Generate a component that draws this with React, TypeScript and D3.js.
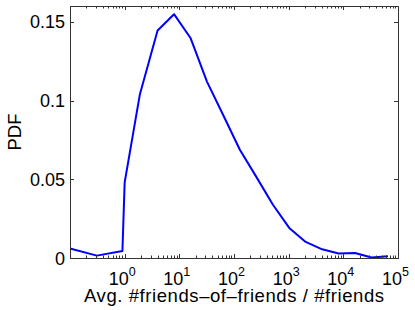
import * as d3 from "d3";
import React from "react";

// bin centres (log-spaced) and their PDF values
const binCenters = [0.1, 0.31, 0.91, 1, 1.9, 4, 8, 16, 32, 64, 128, 256, 512, 1024, 2048, 4096, 8192, 16384, 32768, 65536];
const pdfValues = [0.006, 0.0015, 0.0045, 0.048, 0.104, 0.1444, 0.1548, 0.1397, 0.112, 0.0905, 0.0687, 0.0515, 0.034, 0.0191, 0.0102, 0.0055, 0.0028, 0.0032, 0.0003, 0.0011];

const xMajorExps = [0, 1, 2, 3, 4, 5];
const yTicks = [0, 0.05, 0.1, 0.15];
const yTickLabels = ["0", "0.05", "0.1", "0.15"];

const W = 415;
const H = 310;
const left = 70, right = 398, top = 6, bottom = 258;
const font = "'Liberation Sans', Arial, Helvetica, sans-serif";

const App: React.FC = () => {
  const x = d3.scaleLog().domain([0.1, 1e5]).range([left, right]);
  const y = d3.scaleLinear().domain([0, 0.16]).range([bottom, top]);

  const line = d3.line<number>()
    .x((_, i) => x(binCenters[i]))
    .y((d) => y(d));

  // minor ticks 2..9 in every decade
  const minor: number[] = [];
  for (let e = -1; e < 5; e++) {
    for (let k = 2; k <= 9; k++) minor.push(k * Math.pow(10, e));
  }

  const axisCol = "#333";

  return (
    <svg width={W} height={H} style={{ position: "absolute", left: 0, top: 0, background: "#fff" }}>
      <rect x={0} y={0} width={W} height={H} fill="#fff" />

      <path d={line(pdfValues) || ""} fill="none" stroke="#0000ff" strokeWidth={2} strokeLinejoin="round" />

      {/* box */}
      <rect x={left + 0.5} y={top + 0.5} width={right - left} height={bottom - top} fill="none" stroke={axisCol} strokeWidth={1} />

      {/* x ticks, bottom and top, pointing inwards */}
      {xMajorExps.map((e) => {
        const px = Math.round(x(Math.pow(10, e))) + 0.5;
        return (
          <g key={"xm" + e}>
            <line x1={px} x2={px} y1={bottom} y2={bottom - 4} stroke={axisCol} />
            <line x1={px} x2={px} y1={top} y2={top + 4} stroke={axisCol} />
          </g>
        );
      })}
      {minor.map((v, i) => {
        const px = Math.round(x(v)) + 0.5;
        return (
          <g key={"xn" + i}>
            <line x1={px} x2={px} y1={bottom} y2={bottom - 2.5} stroke={axisCol} />
            <line x1={px} x2={px} y1={top} y2={top + 2.5} stroke={axisCol} />
          </g>
        );
      })}

      {/* y ticks, left and right */}
      {yTicks.map((v) => {
        const py = Math.round(y(v)) + 0.5;
        return (
          <g key={"y" + v}>
            <line x1={left} x2={left + 4} y1={py} y2={py} stroke={axisCol} />
            <line x1={right} x2={right - 4} y1={py} y2={py} stroke={axisCol} />
          </g>
        );
      })}

      {/* y tick labels */}
      {yTicks.map((v, i) => (
        <text key={"yl" + v} x={65} y={y(v) + 6.5} textAnchor="end" fontFamily={font} fontSize={18} fill="#000">
          {yTickLabels[i]}
        </text>
      ))}

      {/* x tick labels 10^n */}
      {xMajorExps.map((e) => (
        <text key={"xl" + e} x={x(Math.pow(10, e)) - 2.5} y={285} textAnchor="middle" fontFamily={font} fontSize={18} fill="#000">
          10
          <tspan fontSize={12.5} dy={-9}>{e}</tspan>
        </text>
      ))}

      {/* axis titles */}
      <text x={(left + right) / 2} y={301.5} textAnchor="middle" fontFamily={font} fontSize={18.5}
        textLength={300} lengthAdjust="spacing" fill="#000">
        Avg. #friends–of–friends / #friends
      </text>
      <text transform={`translate(20.5,${(top + bottom) / 2}) rotate(-90)`} textAnchor="middle" fontFamily={font} fontSize={18.5} fill="#000">
        PDF
      </text>
    </svg>
  );
};

export default App;
